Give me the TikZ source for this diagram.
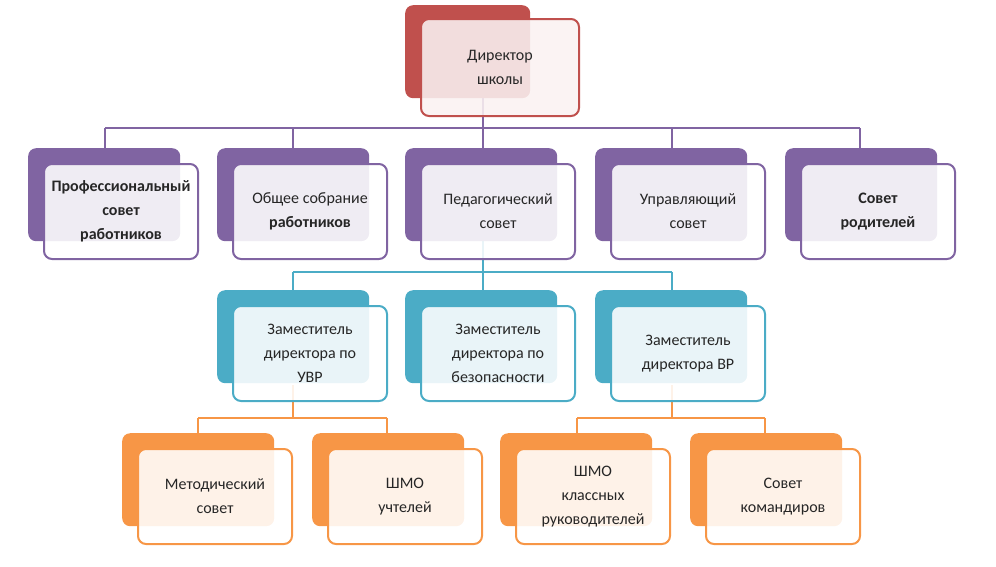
\documentclass[tikz,border=0pt]{standalone}
\usepackage{fontspec}
\setmainfont{Carlito}
\definecolor{cr}{HTML}{C0504D}
\definecolor{cp}{HTML}{8064A2}
\definecolor{ct}{HTML}{4BACC6}
\definecolor{co}{HTML}{F79646}
\tikzset{
 backbox/.style={fill=#1, rounded corners=8pt, minimum width=152pt, minimum height=93pt, inner sep=0pt},
 frontbox/.style={draw=#1, line width=2pt, fill=white, fill opacity=0.88, text opacity=1, rounded corners=8pt, minimum width=154pt, minimum height=95pt, inner sep=0pt, align=center, font=\fontsize{16}{24}\selectfont, text=black!85},
 conn/.style={draw=#1, line width=2.2pt},
}
\newcommand\bx[5]{% name, color, back-left, back-top, text
 \node[backbox=#2, anchor=north west] (#1b) at (#3,#4) {};
 \node[frontbox=#2, anchor=north west] (#1) at (#3+15,#4+15) {#5};
}
\begin{document}
\begin{tikzpicture}[x=1pt,y=-1pt]
\useasboundingbox (0,0) rectangle (996,566);
% connectors (behind)
\coordinate (h1) at (483,128);
\coordinate (h2) at (483,272);
\coordinate (h3) at (293,418);
\coordinate (h4) at (672,418);
\path[conn=cp] (483,98) -- (h1);
\path[conn=cp] (105,128) -- (860,128);
\foreach \x in {105,293,483,672,860} \path[conn=cp] (\x,128) -- (\x,150);
\path[conn=ct] (483,240) -- (h2);
\path[conn=ct] (293,272) -- (672,272);
\foreach \x in {293,483,672} \path[conn=ct] (\x,272) -- (\x,292);
\path[conn=co] (293,385) -- (h3);
\path[conn=co] (198,418) -- (387,418);
\foreach \x in {198,387} \path[conn=co] (\x,418) -- (\x,435);
\path[conn=co] (672,385) -- (h4);
\path[conn=co] (577,418) -- (765,418);
\foreach \x in {577,765} \path[conn=co] (\x,418) -- (\x,435);
% boxes
\node[backbox=cr, anchor=north west, minimum width=125pt] (dirb) at (405,5) {};
\node[frontbox=cr, anchor=north west, minimum width=158pt, minimum height=97pt, fill=cr!8] (dir) at (420,18) {Директор\\школы};
\bx{p1}{cp}{28}{148}{\textbf{Профессиональный}\\\textbf{совет}\\\textbf{работников}}
\bx{p2}{cp}{217}{148}{Общее собрание\\\textbf{работников}}
\bx{p3}{cp}{405}{148}{Педагогический\\совет}
\bx{p4}{cp}{595}{148}{Управляющий\\совет}
\bx{p5}{cp}{785}{148}{\textbf{Совет}\\\textbf{родителей}}
\bx{t1}{ct}{217}{290}{Заместитель\\директора по\\УВР}
\bx{t2}{ct}{405}{290}{Заместитель\\директора по\\безопасности}
\bx{t3}{ct}{595}{290}{Заместитель\\директора ВР}
\bx{o1}{co}{122}{433}{Методический\\совет}
\bx{o2}{co}{312}{433}{ШМО\\учтелей}
\bx{o3}{co}{500}{433}{ШМО\\классных\\руководителей}
\bx{o4}{co}{690}{433}{Совет\\командиров}
\end{tikzpicture}
\end{document}
